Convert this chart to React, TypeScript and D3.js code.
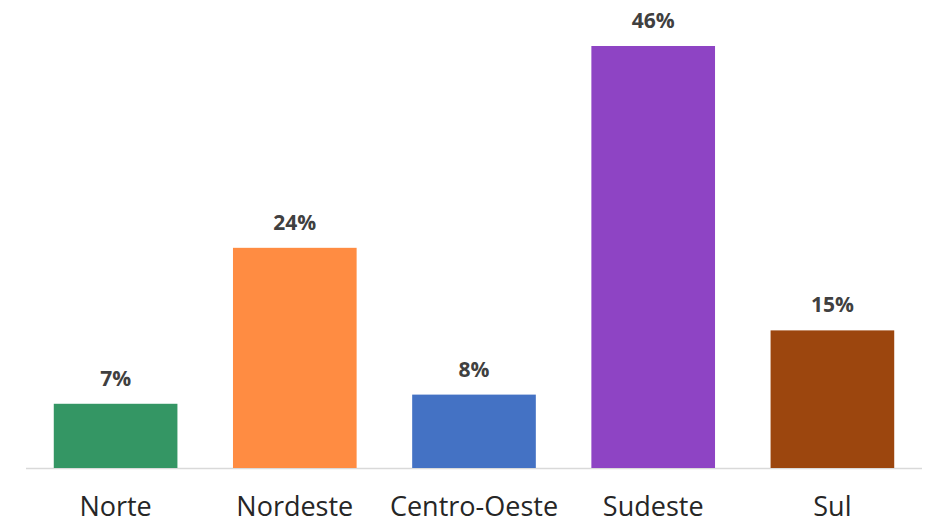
import React from "react";
import * as d3 from "d3";

const categories = ["Norte", "Nordeste", "Centro-Oeste", "Sudeste", "Sul"];
const values = [7, 24, 8, 46, 15];
const colors = ["#349664", "#FF8C42", "#4472C4", "#8E44C4", "#9C460E"];

const W = 929;
const H = 524;

export default function App() {
  const x = d3.scaleBand<string>().domain(categories).range([26, 922]).paddingInner(0.31).paddingOuter(0.155);
  const y = d3.scaleLinear().domain([0, 46]).range([468, 46]);
  const font = "'Open Sans', 'DejaVu Sans', sans-serif";
  return (
    <svg width={W} height={H} style={{ position: "absolute", left: 0, top: 0, background: "#fff" }}>
      <line x1={26} x2={922} y1={y(0) + 0.5} y2={y(0) + 0.5} stroke="#d9d9d9" strokeWidth={1.5} />
      {categories.map((c, i) => (
        <g key={c}>
          <rect x={x(c)} y={y(values[i])} width={x.bandwidth()} height={y(0) - y(values[i])} fill={colors[i]} />
          <text
            x={(x(c) as number) + x.bandwidth() / 2}
            y={y(values[i]) - 18}
            textAnchor="middle"
            fontFamily={font}
            fontWeight="bold"
            fontSize={21}
            fill="#404040"
          >
            {values[i]}%
          </text>
          <text
            x={(x(c) as number) + x.bandwidth() / 2}
            y={516}
            textAnchor="middle"
            fontFamily={font}
            fontSize={27}
            fill="#262626"
          >
            {c}
          </text>
        </g>
      ))}
    </svg>
  );
}
